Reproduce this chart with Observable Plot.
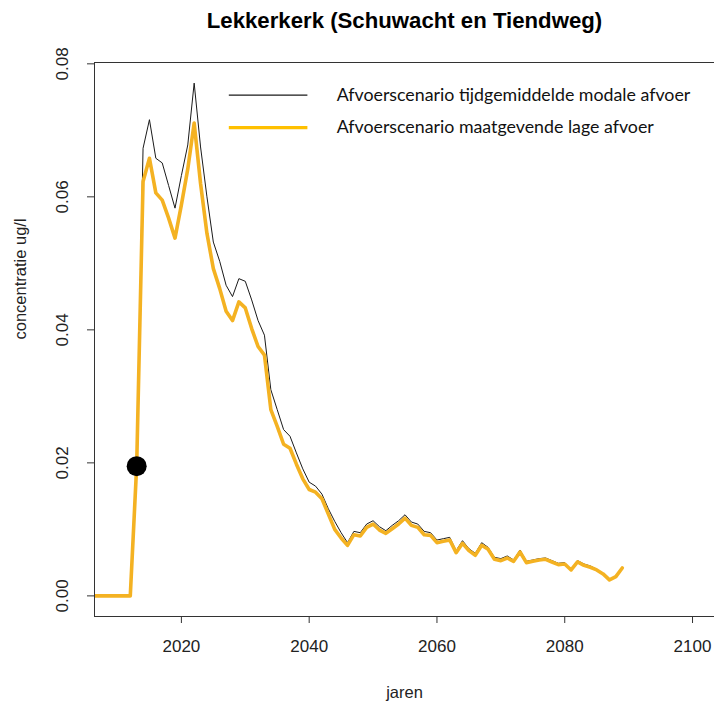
<!DOCTYPE html>
<html><head><meta charset="utf-8">
<script src="https://cdn.jsdelivr.net/npm/d3@7"></script>
<script src="https://cdn.jsdelivr.net/npm/@observablehq/plot@0.6"></script>
<style>
body{margin:0;background:#fff;}
#chart{width:714px;height:707px;overflow:hidden;}
</style></head><body><div id="chart"></div>
<script>
const years = [2006,2007,2008,2009,2010,2011,2012,2013,2014,2015,2016,2017,2018,2019,
  2020,2021,2022,2023,2024,2025,2026,2027,2028,2029,2030,2031,2032,2033,2034,2035,2036,2037,2038,2039,
  2040,2041,2042,2043,2044,2045,2046,2047,2048,2049,2050,2051,2052,2053,2054,2055,2056,2057,2058,2059,
  2060,2061,2062,2063,2064,2065,2066,2067,2068,2069,2070,2071,2072,2073,2074,2075,2076,2077,2078,2079,
  2080,2081,2082,2083,2084,2085,2086,2087,2088,2089];
const modale = [0,0,0,0,0,0,0,0.0195,0.0673,0.0716,0.0658,0.0651,0.0617,0.0583,
  0.0632,0.0678,0.0771,0.0675,0.0600,0.0532,0.0503,0.0467,0.0450,0.0477,0.0473,0.0445,0.0414,0.0392,0.0310,0.0280,0.0250,0.0240,0.0215,0.0191,
  0.0171,0.0165,0.0153,0.0131,0.0112,0.0095,0.0080,0.0097,0.0095,0.0108,0.0113,0.0104,0.0098,0.0106,0.0113,0.0122,0.0111,0.0108,0.0097,0.0095,
  0.0084,0.0086,0.0088,0.0068,0.0083,0.0071,0.0064,0.0080,0.0073,0.0058,0.0056,0.0060,0.0054,0.0069,0.0052,0.0054,0.0056,0.0057,0.0053,0.0049,
  0.0050,0.0040,0.0053,0.0048,0.0045,0.0040,0.0034,0.0025,0.0030,0.0043];
const lage = [0,0,0,0,0,0,0,0.0195,0.0623,0.0658,0.0606,0.0595,0.0568,0.0538,
  0.0588,0.0642,0.0711,0.0620,0.0545,0.0492,0.0462,0.0428,0.0414,0.0442,0.0433,0.0402,0.0375,0.0362,0.0280,0.0255,0.0228,0.0222,0.0198,0.0176,
  0.0160,0.0156,0.0146,0.0123,0.0100,0.0087,0.0076,0.0092,0.0090,0.0103,0.0108,0.0099,0.0094,0.0101,0.0108,0.0117,0.0106,0.0103,0.0092,0.0091,
  0.0080,0.0082,0.0084,0.0065,0.0079,0.0068,0.0061,0.0076,0.0070,0.0055,0.0053,0.0057,0.0052,0.0066,0.0050,0.0052,0.0054,0.0055,0.0051,0.0047,
  0.0048,0.0039,0.0051,0.0046,0.0043,0.0039,0.0033,0.0024,0.0029,0.0042];
const markerYear = [2013];
const markerValue = [0.0195];
const xTicks = [2020, 2040, 2060, 2080, 2100];
const yTicks = [0, 0.02, 0.04, 0.06, 0.08];
const seriesNames = ["Afvoerscenario tijdgemiddelde modale afvoer", "Afvoerscenario maatgevende lage afvoer"];
const titleText = "Lekkerkerk (Schuwacht en Tiendweg)";
const xLabel = "jaren";
const yLabel = "concentratie ug/l";

// R-style axis limits (data range extended by 4%)
const xDomain = [2006.4, 2103.44];
const yDomain = [-0.0031, 0.0802];
// legend placement in data units (like R legend(x, y))
const legX1 = 2027.5, legX2 = 2039.8, legTextX = 2044.3;
const legY = [0.0753, 0.0704];

const data = years.map((y, i) => ({year: y, modale: modale[i], lage: lage[i]}));
const marker = markerYear.map((y, i) => ({year: y, value: markerValue[i]}));
const legend = seriesNames.map((n, i) => ({name: n, y: legY[i]}));

const BLACK = "#1a1a1a", GOLD = "#F4B222", LEGGOLD = "#FFC000";
const FONT = "'Liberation Sans', Arial, sans-serif";

const chart = Plot.plot({
  width: 714, height: 707,
  marginLeft: 94, marginRight: 0, marginTop: 62, marginBottom: 91,
  style: {fontFamily: FONT, fontSize: "17px", color: "#222", background: "#fff"},
  x: {domain: xDomain, axis: null},
  y: {domain: yDomain, axis: null},
  marks: [
    Plot.axisX({ticks: xTicks, tickSize: 7, tickPadding: 16, tickFormat: d => String(d), fontSize: 17, stroke: "#333", label: null}),
    Plot.axisY({ticks: yTicks, tickSize: 7, tickFormat: () => "", stroke: "#333", label: null}),
    Plot.text(yTicks, {y: d => d, frameAnchor: "left", dx: -32, rotate: -90, text: d3.format(".2f"), fontSize: 17, textAnchor: "middle", lineAnchor: "middle", fill: "#222"}),
    Plot.line(data, {x: "year", y: "modale", stroke: BLACK, strokeWidth: 1, clip: true}),
    Plot.line(data, {x: "year", y: "lage", stroke: GOLD, strokeWidth: 3.6, strokeLinejoin: "round", clip: true}),
    Plot.dot(marker, {x: "year", y: "value", r: 10, fill: "black", stroke: "none"}),
    Plot.ruleY([yDomain[0]], {stroke: "#333"}),
    Plot.ruleY([yDomain[1]], {stroke: "#333"}),
    Plot.ruleX([xDomain[0]], {stroke: "#333"}),
    Plot.ruleY(legend.slice(0, 1), {y: "y", x1: legX1, x2: legX2, stroke: BLACK, strokeWidth: 1.3}),
    Plot.ruleY(legend.slice(1), {y: "y", x1: legX1, x2: legX2, stroke: LEGGOLD, strokeWidth: 3.2}),
    Plot.text(legend, {x: legTextX, y: "y", text: "name", textAnchor: "start", lineAnchor: "middle", fontFamily: "Lato, 'Open Sans', sans-serif", fontSize: 17.8, fill: "#111"}),
    Plot.text([titleText], {frameAnchor: "top", dy: -42, fontWeight: "bold", fontSize: 22.2, lineAnchor: "middle", fill: "#000"}),
    Plot.text([xLabel], {frameAnchor: "bottom", dy: 76, fontSize: 16.5, lineAnchor: "middle", fill: "#222"}),
    Plot.text([yLabel], {frameAnchor: "left", dx: -74, rotate: -90, fontSize: 16.5, lineAnchor: "middle", fill: "#222"})
  ]
});
document.getElementById("chart").appendChild(chart);
</script></body></html>
